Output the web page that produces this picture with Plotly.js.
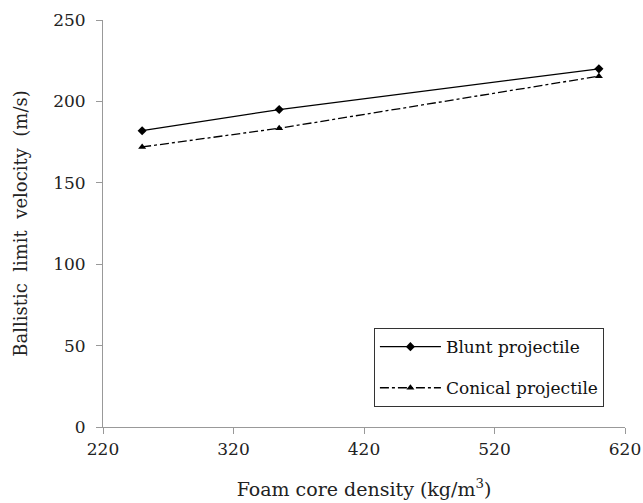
<!DOCTYPE html>
<html>
<head>
<meta charset="utf-8">
<script src="https://cdn.plot.ly/plotly-3.0.1.min.js"></script>
<style>
html,body{margin:0;padding:0;background:#fff;}
#chart{width:643px;height:503px;}
</style>
</head>
<body>
<div id="chart"></div>
<script>
const density = [250, 355, 600];
const blunt = [182, 195, 220];
const conical = [172, 183.5, 215.5];
const xTicks = [220, 320, 420, 520, 620];
const yTicks = [0, 50, 100, 150, 200, 250];

const SERIF = "DejaVu Serif";

const traces = [
  {x: density, y: blunt, name: 'Blunt projectile', type: 'scatter', mode: 'lines+markers',
   legendgroup: 'a',
   line: {color: '#000', width: 1.3, dash: 'solid'},
   marker: {symbol: 'diamond', size: 7, color: '#000'}},
  {x: density, y: conical, name: 'Conical projectile', type: 'scatter', mode: 'lines+markers',
   legendgroup: 'b',
   line: {color: '#000', width: 1.3, dash: 'dashdot'},
   marker: {symbol: 'triangle-up', size: 7, color: '#000'}}
];

const layout = {
  width: 643, height: 503,
  margin: {l: 103, r: 18, t: 20, b: 76},
  paper_bgcolor: '#fff', plot_bgcolor: '#fff',
  font: {family: SERIF, size: 17, color: '#222'},
  showlegend: true,
  legend: {x: 0.519, y: 0.243, xanchor: 'left', yanchor: 'top',
    bordercolor: '#333', borderwidth: 1, bgcolor: '#fff',
    font: {family: SERIF, size: 17, color: '#111'},
    itemwidth: 61,
    traceorder: 'grouped', tracegroupgap: 16},
  xaxis: {range: [220, 620], tickvals: xTicks, ticktext: xTicks.map(String),
    showgrid: false, zeroline: false, showline: true, linecolor: '#999', linewidth: 1,
    ticks: 'outside', ticklen: 6, tickcolor: '#999', ticklabelstandoff: 1,
    tickfont: {family: SERIF, size: 17, color: '#222'},
    title: {text: 'Foam core density (kg/m<sup>3</sup>)', standoff: 24,
      font: {family: SERIF, size: 19, color: '#222'}}},
  yaxis: {range: [0, 250], tickvals: yTicks, ticktext: yTicks.map(String),
    showgrid: false, zeroline: false, showline: true, linecolor: '#999', linewidth: 1,
    ticks: 'outside', ticklen: 6, tickcolor: '#999', ticklabelstandoff: 7,
    tickfont: {family: SERIF, size: 17, color: '#222'},
    title: {text: 'Ballistic  limit  velocity  (m/s)', standoff: 20,
      font: {family: SERIF, size: 18, color: '#222'}}}
};

Plotly.newPlot('chart', traces, layout, {displayModeBar: false, staticPlot: true});
</script>
</body>
</html>
